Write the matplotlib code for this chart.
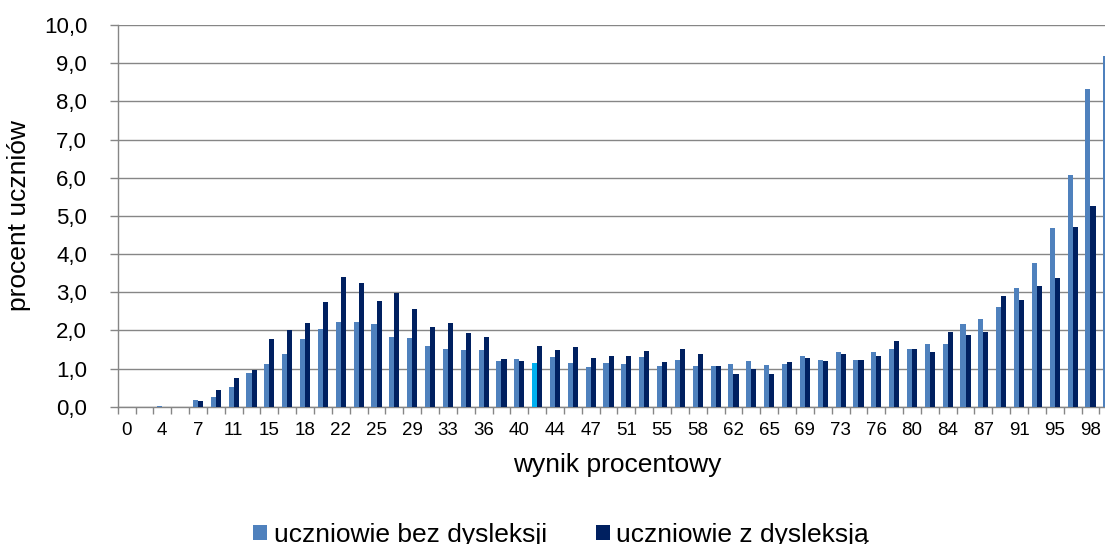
import matplotlib
matplotlib.use("Agg")
import matplotlib.pyplot as plt
import numpy as np
from matplotlib.ticker import FuncFormatter

plt.rcParams["font.family"] = ["Liberation Sans", "DejaVu Sans"]

# ─── Data: % of students per score (0..55 pts -> 0..100 %) ────────────────────
bez_dysleksji = [0, 0, 0.02, 0, 0.18, 0.25, 0.52, 0.88, 1.11, 1.38, 1.78, 2.03,
                 2.22, 2.23, 2.16, 1.82, 1.79, 1.59, 1.50, 1.48, 1.48, 1.20,
                 1.26, 1.14, 1.31, 1.15, 1.05, 1.14, 1.13, 1.31, 1.06, 1.23,
                 1.07, 1.07, 1.13, 1.19, 1.09, 1.11, 1.34, 1.23, 1.44, 1.23,
                 1.44, 1.51, 1.51, 1.65, 1.65, 2.16, 2.29, 2.60, 3.11, 3.76,
                 4.67, 6.07, 8.33, 9.18]
z_dysleksja = [0, 0, 0, 0, 0.14, 0.43, 0.74, 0.96, 1.77, 2.02, 2.20, 2.74,
               3.40, 3.24, 2.76, 2.99, 2.55, 2.10, 2.20, 1.94, 1.82, 1.26,
               1.21, 1.60, 1.48, 1.57, 1.28, 1.34, 1.34, 1.46, 1.17, 1.50,
               1.39, 1.07, 0.85, 0.98, 0.85, 1.18, 1.27, 1.19, 1.37, 1.22,
               1.32, 1.73, 1.51, 1.44, 1.95, 1.87, 1.96, 2.89, 2.79, 3.15,
               3.37, 4.71, 5.26, 6.40]
# label shown under every second category
tick_labels = ["0", "4", "7", "11", "15", "18", "22", "25", "29", "33", "36",
               "40", "44", "47", "51", "55", "58", "62", "65", "69", "73",
               "76", "80", "84", "87", "91", "95", "98"]
series_names = ["uczniowie bez dysleksji", "uczniowie z dysleksją"]
highlight_idx = 23  # single bar drawn in a brighter blue

LIGHT = "#4F81BD"
DARK = "#002060"
HILITE = "#00B0F0"
GRID = "#868686"

n = len(bez_dysleksji)
x = np.arange(n)
w = 0.285

fig = plt.figure(figsize=(11.05, 5.44), dpi=100)
ax = fig.add_axes([0.1065, 0.2524, 0.9046, 0.7016])

light_colors = [LIGHT] * n
light_colors[highlight_idx] = HILITE
ax.bar(x - w / 2, bez_dysleksji, w, color=light_colors, label=series_names[0], zorder=3)
ax.bar(x + w / 2, z_dysleksja, w, color=DARK, label=series_names[1], zorder=3)

ax.set_xlim(-0.5, n - 0.5)
ax.set_ylim(0, 10)
ax.set_yticks(np.arange(0, 11, 1))
ax.yaxis.set_major_formatter(FuncFormatter(lambda v, p: f"{v:.1f}".replace(".", ",")))
ax.yaxis.grid(True, color=GRID, lw=1.0, zorder=0)

ax.set_xticks(x[::2], tick_labels)
ax.set_xticks(np.arange(n + 1) - 0.5, minor=True)
ax.tick_params(axis="x", which="major", length=0, pad=11, labelsize=13.5)
ax.tick_params(axis="x", which="minor", length=5, color=GRID, width=1.0)
ax.tick_params(axis="y", length=6, color=GRID, width=1.0, pad=16, labelsize=16)

for s in ("top", "right"):
    ax.spines[s].set_visible(False)
for s in ("left", "bottom"):
    ax.spines[s].set_color(GRID)
    ax.spines[s].set_linewidth(1.0)

ax.set_xlabel("wynik procentowy", fontsize=19, labelpad=10)
ax.set_ylabel("procent uczniów", fontsize=19, labelpad=9)

fig.legend(loc="center", bbox_to_anchor=(561 / 1105, 1 - 535 / 544), ncol=2,
           frameon=False, fontsize=19, handlelength=0.53, handleheight=0.53,
           handletextpad=0.25, columnspacing=1.85)

fig.savefig("out.png", dpi=100)
